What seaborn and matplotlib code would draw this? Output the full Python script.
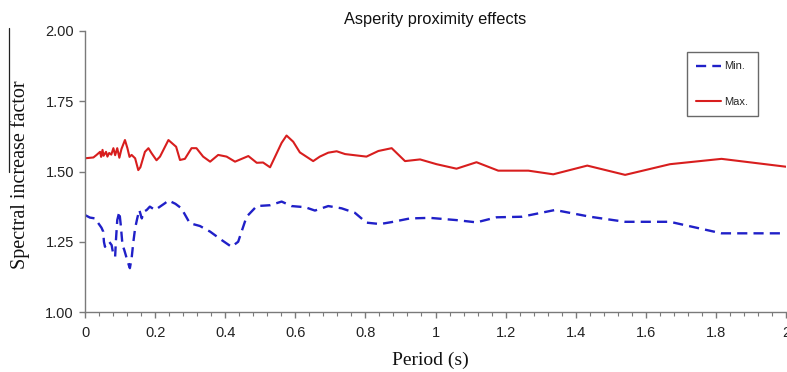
import numpy as np
import pandas as pd
import matplotlib
matplotlib.use("Agg")
import matplotlib.pyplot as plt
from matplotlib.lines import Line2D
import seaborn as sns

# ---- data ----
max_period = [0.0, 0.024, 0.033, 0.043, 0.046, 0.05, 0.053, 0.06, 0.064, 0.069, 0.075,
              0.081, 0.086, 0.092, 0.098, 0.104, 0.114, 0.121, 0.127, 0.133, 0.143,
              0.152, 0.158, 0.171, 0.181, 0.19, 0.204, 0.214, 0.238, 0.26, 0.271,
              0.285, 0.304, 0.318, 0.337, 0.357, 0.38, 0.404, 0.428, 0.466, 0.49,
              0.508, 0.528, 0.561, 0.575, 0.594, 0.613, 0.651, 0.67, 0.694, 0.718,
              0.742, 0.803, 0.837, 0.875, 0.913, 0.956, 1.003, 1.06, 1.117, 1.179,
              1.25, 1.265, 1.336, 1.433, 1.541, 1.669, 1.816, 2.0]
max_value = [1.547, 1.550, 1.559, 1.570, 1.552, 1.577, 1.556, 1.570, 1.553, 1.566, 1.560,
             1.583, 1.558, 1.583, 1.549, 1.580, 1.612, 1.583, 1.552, 1.559, 1.547,
             1.505, 1.515, 1.570, 1.583, 1.565, 1.540, 1.553, 1.612, 1.588, 1.541,
             1.545, 1.583, 1.583, 1.553, 1.535, 1.559, 1.553, 1.535, 1.555, 1.531,
             1.532, 1.515, 1.602, 1.628, 1.606, 1.568, 1.537, 1.553, 1.567, 1.572,
             1.562, 1.553, 1.573, 1.583, 1.537, 1.543, 1.526, 1.510, 1.533, 1.503,
             1.503, 1.503, 1.490, 1.521, 1.488, 1.526, 1.545, 1.517]

min_period = [0.0, 0.014, 0.029, 0.038, 0.047, 0.052, 0.054, 0.057, 0.062, 0.069, 0.076,
              0.081, 0.086, 0.088, 0.092, 0.098, 0.102, 0.107, 0.112, 0.119, 0.125,
              0.128, 0.133, 0.138, 0.143, 0.149, 0.155, 0.162, 0.168, 0.176, 0.185,
              0.2, 0.214, 0.228, 0.238, 0.258, 0.275, 0.299, 0.328, 0.357, 0.39,
              0.418, 0.437, 0.461, 0.49, 0.528, 0.561, 0.589, 0.628, 0.656, 0.694,
              0.732, 0.77, 0.803, 0.842, 0.875, 0.927, 0.984, 1.06, 1.117, 1.174,
              1.246, 1.341, 1.441, 1.541, 1.669, 1.816, 2.0]
min_value = [1.345, 1.336, 1.333, 1.316, 1.300, 1.286, 1.250, 1.232, 1.244, 1.250, 1.238,
             1.203, 1.197, 1.250, 1.327, 1.357, 1.310, 1.238, 1.221, 1.191, 1.167,
             1.156, 1.191, 1.250, 1.298, 1.333, 1.363, 1.333, 1.357, 1.363, 1.375,
             1.363, 1.375, 1.387, 1.397, 1.385, 1.369, 1.316, 1.306, 1.286, 1.256,
             1.232, 1.250, 1.339, 1.377, 1.380, 1.393, 1.377, 1.373, 1.361, 1.377,
             1.369, 1.353, 1.318, 1.313, 1.320, 1.333, 1.335, 1.327, 1.319, 1.337,
             1.339, 1.363, 1.339, 1.321, 1.321, 1.280, 1.280]

x_ticks = [0, 0.2, 0.4, 0.6, 0.8, 1.0, 1.2, 1.4, 1.6, 1.8, 2.0]
x_tick_labels = ["0", "0.2", "0.4", "0.6", "0.8", "1", "1.2", "1.4", "1.6", "1.8", "2"]
y_ticks = [1.00, 1.25, 1.50, 1.75, 2.00]
y_tick_labels = ["1.00", "1.25", "1.50", "1.75", "2.00"]

df_min = pd.DataFrame({"Period": min_period, "Factor": min_value, "Series": "Min."})
df_max = pd.DataFrame({"Period": max_period, "Factor": max_value, "Series": "Max."})

# ---- figure ----
sns.set_theme(style="ticks")
plt.rcParams["font.family"] = ["Liberation Sans", "DejaVu Sans"]

fig = plt.figure(figsize=(7.87, 3.72), dpi=100)
ax = fig.add_axes([85 / 787, 1 - 312 / 372, 701 / 787, 281 / 372])

blue = "#2020c8"
red = "#d81e1e"
sns.lineplot(data=df_min, x="Period", y="Factor", ax=ax, color=blue, lw=1.7,
             linestyle=(0, (4.3, 2.6)), label="Min.", sort=False, estimator=None)
sns.lineplot(data=df_max, x="Period", y="Factor", ax=ax, color=red, lw=1.5,
             label="Max.", sort=False, estimator=None)

ax.set_xlim(0, 2)
ax.set_ylim(1.0, 2.0)
ax.set_xticks(x_ticks)
ax.set_xticklabels(x_tick_labels)
ax.set_xticks(np.arange(0, 2.001, 0.04), minor=True)
ax.set_yticks(y_ticks)
ax.set_yticklabels(y_tick_labels)

spine_col = "#7a7a7a"
for s in ["top", "right"]:
    ax.spines[s].set_visible(False)
for s in ["left", "bottom"]:
    ax.spines[s].set_color(spine_col)
    ax.spines[s].set_linewidth(1.0)
ax.tick_params(axis="both", which="major", colors=spine_col, labelcolor="#222222",
               labelsize=10.5, length=4, width=1.0, direction="out")
ax.tick_params(axis="x", which="minor", colors=spine_col, length=3, width=0.8,
               direction="out")
ax.tick_params(axis="y", which="major", pad=4)
ax.tick_params(axis="x", which="major", pad=6)

ax.set_title("Asperity proximity effects", fontsize=11.8, color="#111111", pad=5)
ax.set_xlabel("Period (s)", family=["Liberation Serif"], fontsize=14, color="#111111")
ax.xaxis.set_label_coords((430 - 85) / 701, -0.14)
ax.set_ylabel("Spectral increase factor", family=["Liberation Serif"], fontsize=14.5,
              color="#111111")
ax.yaxis.set_label_coords(-0.078, 0.488)

leg = ax.legend(loc="upper left", bbox_to_anchor=((687 - 85) / 701, (312 - 52) / 281),
                frameon=True, fontsize=8, handlelength=2.2, handletextpad=0.33,
                labelspacing=2.3, borderpad=0.85, fancybox=False, borderaxespad=0)
leg.get_frame().set_edgecolor("#444444")
leg.get_frame().set_linewidth(1.0)

# overline artifact beside the y label
fig.add_artist(Line2D([9 / 787, 9 / 787], [1 - 28 / 372, 1 - 172 / 372],
                      color="#222222", lw=0.9))

fig.savefig("out.png", dpi=100)
